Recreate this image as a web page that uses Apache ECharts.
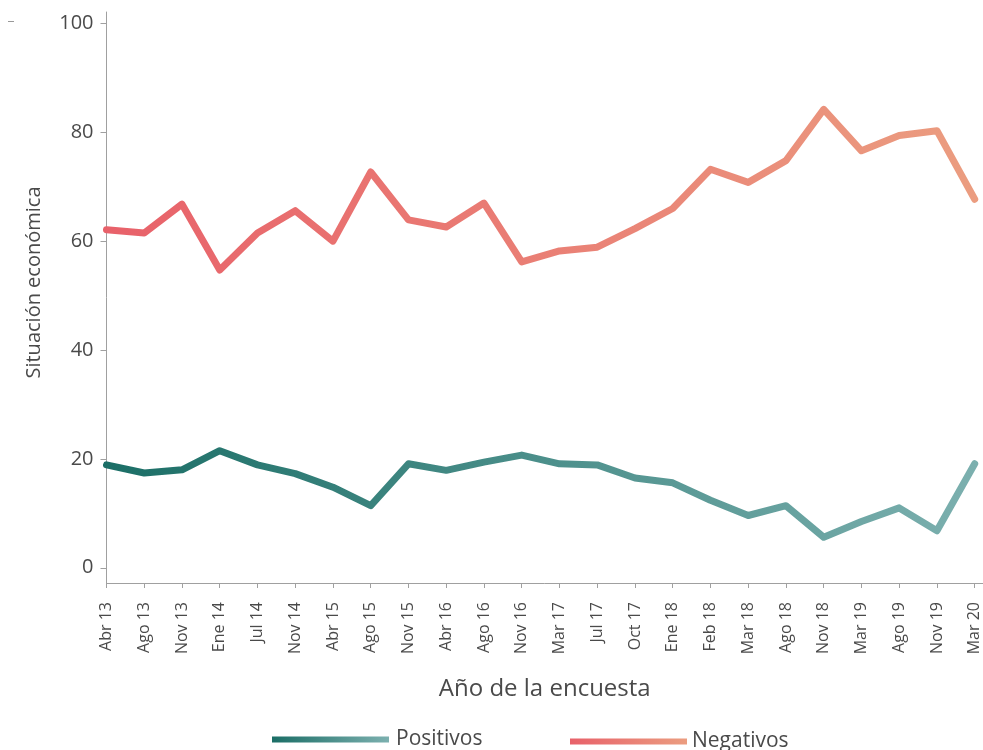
<!DOCTYPE html>
<html>
<head>
<meta charset="utf-8">
<script src="https://cdn.jsdelivr.net/npm/echarts@6/dist/echarts.min.js"></script>
<style>
html,body{margin:0;padding:0;background:#fff;}
#chart{width:983px;height:750px;}
</style>
</head>
<body>
<div id="chart"></div>
<script>
const categories = ['Abr 13','Ago 13','Nov 13','Ene 14','Jul 14','Nov 14','Abr 15','Ago 15','Nov 15','Abr 16','Ago 16','Nov 16','Mar 17','Jul 17','Oct 17','Ene 18','Feb 18','Mar 18','Ago 18','Nov 18','Mar 19','Ago 19','Nov 19','Mar 20'];
const positivos = [18.9,17.4,18.0,21.5,18.9,17.3,14.8,11.4,19.1,17.9,19.4,20.7,19.1,18.9,16.5,15.6,12.4,9.6,11.4,5.6,8.5,11.0,6.8,19.1];
const negativos = [62.1,61.5,66.8,54.7,61.5,65.6,60.0,72.7,63.9,62.6,67.0,56.2,58.2,58.9,62.3,66.0,73.2,70.8,74.8,84.2,76.6,79.4,80.3,67.7];
const yTicks = [0,20,40,60,80,100];
const seriesNames = ['Positivos','Negativos'];

const grad = (a,b) => ({type:'linear',x:0,y:0,x2:1,y2:0,colorStops:[{offset:0,color:a},{offset:1,color:b}]});
const posGrad = grad('#1b6e66','#7cb0af');
const negGrad = grad('#e8616a','#eb9d80');

const chart = echarts.init(document.getElementById('chart'), null, {renderer:'canvas'});
const txt = '#4a4a4a';
const font = '"Open Sans", sans-serif';
const idx = categories.map((c,i)=>i);

chart.setOption({
  animation:false,
  textStyle:{fontFamily:font},
  grid:{left:106.5,right:0,top:12,bottom:167,containLabel:false},
  xAxis:{
    type:'value', min:0, max:23.22,
    axisLine:{show:true,onZero:false,lineStyle:{color:'#a0a0a0',width:1}},
    axisTick:{show:true,length:5,customValues:idx,lineStyle:{color:'#a0a0a0'}},
    axisLabel:{show:true,rotate:90,margin:19,fontSize:16,color:txt,fontFamily:font,customValues:idx,
      formatter:v=>categories[Math.round(v)]},
    splitLine:{show:false},
    name:'Año de la encuesta', nameLocation:'middle', nameGap:94,
    nameTextStyle:{fontSize:24,color:txt,fontFamily:font}
  },
  yAxis:{
    type:'value', min:-2.8, max:102.1,
    axisLine:{show:true,onZero:false,lineStyle:{color:'#a0a0a0',width:1}},
    axisTick:{show:true,length:6,customValues:yTicks,lineStyle:{color:'#a0a0a0'}},
    axisLabel:{show:true,margin:13,fontSize:20,color:txt,fontFamily:font,customValues:yTicks},
    splitLine:{show:false},
    name:'Situación económica', nameLocation:'middle', nameGap:62,
    nameTextStyle:{fontSize:20,color:txt,fontFamily:font,padding:[0,0,0,30]}
  },
  legend:[
    {data:[seriesNames[0]],left:272,top:729,padding:0,icon:'rect',itemWidth:117,itemHeight:6,
     textStyle:{fontSize:21,color:txt,fontFamily:font,padding:[0,0,0,2]}},
    {data:[seriesNames[1]],left:570,top:731,padding:0,icon:'rect',itemWidth:117,itemHeight:6,
     textStyle:{fontSize:21,color:txt,fontFamily:font,padding:[0,0,0,0]}}
  ],
  graphic:[{type:'line',shape:{x1:8,y1:21.5,x2:14,y2:21.5},style:{stroke:'#999',lineWidth:1}}],
  series:[
    {name:seriesNames[0],type:'line',data:positivos.map((v,i)=>[i,v]),symbol:'none',
     itemStyle:{color:posGrad},lineStyle:{color:posGrad,width:7,cap:'round',join:'round'}},
    {name:seriesNames[1],type:'line',data:negativos.map((v,i)=>[i,v]),symbol:'none',
     itemStyle:{color:negGrad},lineStyle:{color:negGrad,width:7,cap:'round',join:'round'}}
  ]
});
</script>
</body>
</html>
